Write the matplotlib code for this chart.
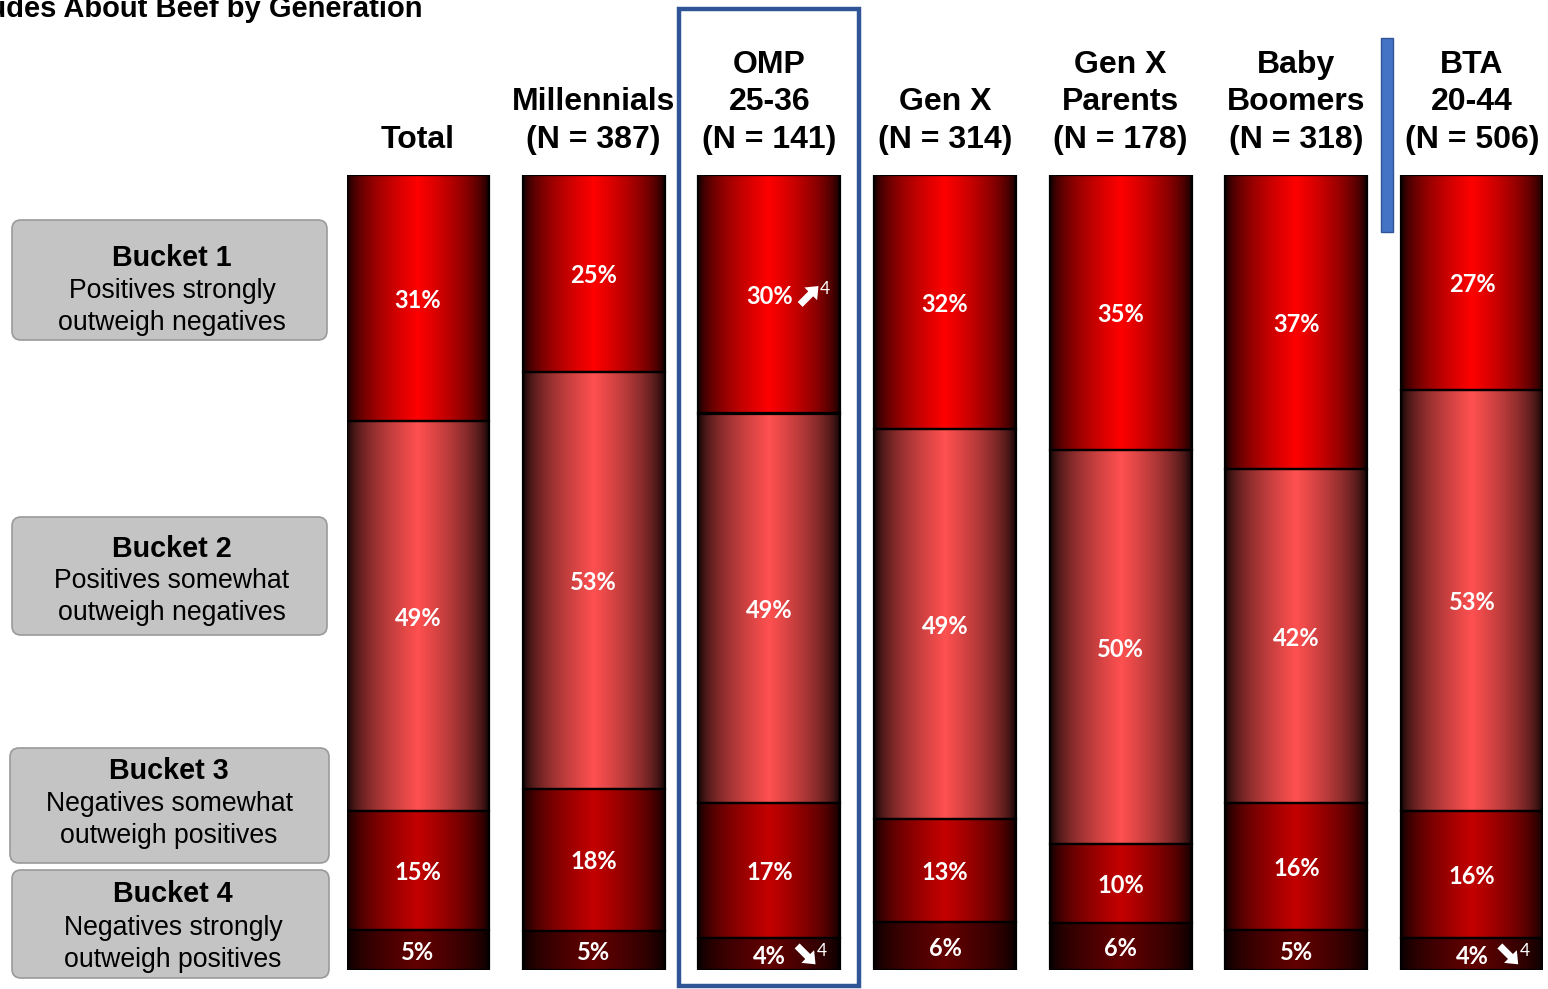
import numpy as np
import matplotlib
matplotlib.use("Agg")
import matplotlib.pyplot as plt
from matplotlib.patches import FancyBboxPatch, Rectangle, Polygon
from matplotlib.colors import to_rgb

# ---- data -------------------------------------------------------------
groups = ["Total", "Millennials\n(N = 387)", "OMP\n25-36\n(N = 141)",
          "Gen X\n(N = 314)", "Gen X\nParents\n(N = 178)",
          "Baby\nBoomers\n(N = 318)", "BTA\n20-44\n(N = 506)"]
bucket1 = [31, 25, 30, 32, 35, 37, 27]   # positives strongly outweigh negatives
bucket2 = [49, 53, 49, 49, 50, 42, 53]   # positives somewhat outweigh negatives
bucket3 = [15, 18, 17, 13, 10, 16, 16]   # negatives somewhat outweigh positives
bucket4 = [5, 5, 4, 6, 6, 5, 4]          # negatives strongly outweigh positives

bucket_titles = ["Bucket 1", "Bucket 2", "Bucket 3", "Bucket 4"]
bucket_desc = [["Positives strongly", "outweigh negatives"],
               ["Positives somewhat", "outweigh negatives"],
               ["Negatives somewhat", "outweigh positives"],
               ["Negatives strongly", "outweigh positives"]]

# significant changes: (group index, bucket number, direction)
trend_marks = [(2, 1, "up"), (2, 4, "down"), (6, 4, "down")]
trend_note = "4"

title = "Attitudes About Beef by Generation"

# ---- layout / style ---------------------------------------------------
W, H = 1548, 989
bucket_colors = ["#FF0000", "#FF5050", "#C40000", "#620000"]
HEAD_FONT = "Liberation Sans"
LABEL_FONT = "Lato"

fig = plt.figure(figsize=(W / 100, H / 100), dpi=100)

bar_w = 0.808
n = len(groups)
ax = fig.add_axes([347 / W, (H - 970) / H, (1543 - 347) / W, (970 - 175) / H])
ax.axis("off")

# overlay axes in pixel units (y downwards) for annotations
ov = fig.add_axes([0, 0, 1, 1], zorder=5)
ov.set_xlim(0, W)
ov.set_ylim(H, 0)
ov.axis("off")
ov.patch.set_alpha(0)

# horizontal "center bright, edges dark" profile
t = np.linspace(0, 1, 256)
profile = np.clip(1 - np.abs(2 * t - 1), 0, 1) ** 0.55

data = np.array([bucket4, bucket3, bucket2, bucket1], dtype=float)  # bottom -> top
shares = data / data.sum(axis=0) * 100
colors_bt = bucket_colors[::-1]
labels_bt = data.astype(int)

x = np.arange(n)
bottom = np.zeros(n)
mids = {}
for k in range(4):
    vals = shares[k]
    rgb = np.array(to_rgb(colors_bt[k]))
    img = rgb[None, None, :] * profile[None, :, None]
    for i in range(n):
        ax.imshow(img, extent=(x[i] - bar_w / 2, x[i] + bar_w / 2,
                               bottom[i], bottom[i] + vals[i]),
                  aspect="auto", interpolation="bilinear", zorder=1)
    ax.bar(x, vals, bottom=bottom, width=bar_w, fill=False,
           edgecolor="black", linewidth=1.6, zorder=2)
    for i in range(n):
        mids[(i, 4 - k)] = (bottom[i] + vals[i] / 2, labels_bt[k][i])
    bottom += vals

ax.set_xlim(-bar_w / 2, n - 1 + bar_w / 2)
ax.set_ylim(0, 100)


def to_px(i, y):
    px, py = ax.transData.transform((i, y))
    return px, H - py


# segment value labels
for (i, b), (mid, v) in mids.items():
    cx, cy = to_px(i, mid)
    ov.text(cx, cy + 2, f"{v}%", ha="center", va="center", color="white",
            fontsize=17, fontweight="bold", family=LABEL_FONT, zorder=7)


def block_arrow(cx, cy, angle_deg, length=26, shaft=7, head_w=18, head_l=11):
    """Thick block arrow centred on (cx, cy) in overlay pixel units."""
    L = length
    pts = np.array([[-L / 2, -shaft / 2], [L / 2 - head_l, -shaft / 2],
                    [L / 2 - head_l, -head_w / 2], [L / 2, 0],
                    [L / 2 - head_l, head_w / 2], [L / 2 - head_l, shaft / 2],
                    [-L / 2, shaft / 2]])
    a = np.deg2rad(angle_deg)
    rot = np.array([[np.cos(a), -np.sin(a)], [np.sin(a), np.cos(a)]])
    pts = pts @ rot.T + np.array([cx, cy])
    ov.add_patch(Polygon(pts, closed=True, facecolor="white",
                         edgecolor="none", zorder=7))


# trend arrows with footnote marker
for gi, b, direction in trend_marks:
    cx, cy = to_px(gi, mids[(gi, b)][0])
    if direction == "up":
        block_arrow(cx + 40, cy + 1, -45)        # y axis points down
        ov.text(cx + 56, cy - 5, trend_note, color="white", fontsize=12.5,
                ha="center", va="center", family=LABEL_FONT, zorder=7)
    else:
        block_arrow(cx + 37, cy + 1, 45)
        ov.text(cx + 53, cy - 3, trend_note, color="white", fontsize=12.5,
                ha="center", va="center", family=LABEL_FONT, zorder=7)

# column headers
line_pitch = 37.5
for i, g in enumerate(groups):
    cx, _ = to_px(i, 0)
    lines = g.split("\n")
    for j, ln in enumerate(reversed(lines)):
        ov.text(cx, 148 - j * line_pitch, ln, ha="center", va="baseline",
                fontsize=23, fontweight="bold", family=HEAD_FONT, color="black")

# highlight frame around OMP column
ocx, _ = to_px(2, 0)
ov.add_patch(Rectangle((ocx - 90, 9), 180, 977, fill=False,
                       edgecolor="#2F5597", linewidth=3.2, zorder=6))

# divider before BTA column
ov.add_patch(Rectangle((1381, 38), 12, 194, facecolor="#4472C4",
                       edgecolor="#2F5597", linewidth=1, zorder=6))

# bucket legend boxes
boxes = [(12, 220, 315, 120, 172, [258, 291, 323]),
         (12, 517, 315, 118, 172, [549, 581, 613]),
         (10, 748, 319, 115, 169, [771, 804, 836]),
         (12, 870, 317, 108, 173, [894, 928, 960])]
for (bx, by, bw, bh, tcx, ys), ttl, desc in zip(boxes, bucket_titles, bucket_desc):
    ov.add_patch(FancyBboxPatch((bx, by), bw, bh,
                                boxstyle="round,pad=0,rounding_size=9",
                                facecolor="#C4C4C4", edgecolor="#9A9A9A",
                                linewidth=1.2))
    ov.text(tcx, ys[0], ttl, ha="center", va="center", fontsize=20.7,
            fontweight="bold", family=HEAD_FONT, color="black")
    for yy, ln in zip(ys[1:], desc):
        ov.text(tcx, yy, ln, ha="center", va="center", fontsize=19.2,
                family=HEAD_FONT, color="black")

# chart title (runs off the left edge)
ov.text(422, 17, title, ha="right", va="baseline", fontsize=21,
        fontweight="bold", family=HEAD_FONT, color="black")

fig.savefig("out.png", dpi=100)
